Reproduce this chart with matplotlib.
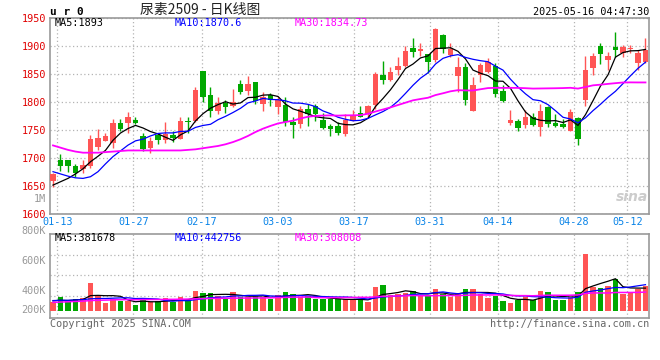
import matplotlib
matplotlib.use("Agg")
import matplotlib.pyplot as plt

plt.rcParams['font.family'] = ['DejaVu Sans Mono', 'Noto Sans CJK SC']

# trading days on the chart (2025)
dates = ["01-10", "01-13", "01-14", "01-15", "01-16", "01-17", "01-20", "01-21", "01-22", "01-23",
         "01-24", "01-27", "02-05", "02-06", "02-07", "02-10", "02-11", "02-12", "02-13", "02-14",
         "02-17", "02-18", "02-19", "02-20", "02-21", "02-24", "02-25", "02-26", "02-27", "02-28",
         "03-03", "03-04", "03-05", "03-06", "03-07", "03-10", "03-11", "03-12", "03-13", "03-14",
         "03-17", "03-18", "03-19", "03-20", "03-21", "03-24", "03-25", "03-26", "03-27", "03-28",
         "03-31", "04-01", "04-02", "04-03", "04-07", "04-08", "04-09", "04-10", "04-11", "04-14",
         "04-15", "04-16", "04-17", "04-18", "04-21", "04-22", "04-23", "04-24", "04-25", "04-28",
         "04-29", "04-30", "05-06", "05-07", "05-08", "05-09", "05-12", "05-13", "05-14", "05-15"]

opens = [1658, 1696, 1696, 1685, 1680, 1686, 1720, 1730, 1727, 1762,
         1762, 1768, 1739, 1718, 1740, 1731, 1741, 1734, 1765, 1766,
         1855, 1812, 1784, 1798, 1792, 1832, 1820, 1835, 1797, 1812,
         1790, 1794, 1764, 1760, 1787, 1792, 1767, 1757, 1757, 1742,
         1766, 1780, 1778, 1794, 1848, 1839, 1857, 1864, 1896, 1891,
         1885, 1874, 1920, 1884, 1846, 1862, 1784, 1848, 1854, 1864,
         1820, 1763, 1766, 1758, 1772, 1755, 1790, 1763, 1760, 1748,
         1771, 1803, 1860, 1900, 1874, 1898, 1888, 1895, 1870, 1872]
closes = [1670, 1686, 1686, 1672, 1687, 1733, 1735, 1739, 1762, 1752,
          1773, 1763, 1716, 1730, 1731, 1743, 1735, 1766, 1764, 1821,
          1808, 1784, 1798, 1790, 1800, 1818, 1832, 1801, 1809, 1803,
          1803, 1764, 1758, 1788, 1779, 1778, 1754, 1752, 1745, 1767,
          1776, 1773, 1792, 1850, 1839, 1854, 1864, 1891, 1890, 1894,
          1872, 1930, 1894, 1894, 1862, 1804, 1830, 1866, 1872, 1814,
          1802, 1767, 1754, 1772, 1758, 1784, 1761, 1757, 1755, 1782,
          1734, 1857, 1882, 1886, 1882, 1893, 1898, 1897, 1888, 1893]
highs = [1673, 1706, 1696, 1689, 1696, 1741, 1751, 1745, 1769, 1769,
         1782, 1772, 1745, 1737, 1745, 1764, 1748, 1773, 1773, 1827,
         1856, 1827, 1808, 1803, 1823, 1839, 1846, 1836, 1817, 1816,
         1808, 1808, 1773, 1793, 1797, 1797, 1780, 1761, 1764, 1779,
         1785, 1792, 1794, 1854, 1873, 1863, 1881, 1900, 1914, 1905,
         1885, 1932, 1921, 1905, 1881, 1870, 1844, 1870, 1878, 1869,
         1830, 1786, 1770, 1785, 1780, 1796, 1793, 1778, 1769, 1787,
         1773, 1882, 1888, 1905, 1890, 1925, 1902, 1902, 1892, 1915]
lows = [1648, 1677, 1675, 1666, 1672, 1681, 1714, 1730, 1718, 1748,
        1745, 1760, 1712, 1708, 1724, 1727, 1728, 1733, 1745, 1764,
        1800, 1773, 1779, 1780, 1790, 1814, 1812, 1797, 1784, 1792,
        1778, 1757, 1736, 1753, 1757, 1766, 1752, 1739, 1740, 1738,
        1765, 1772, 1773, 1788, 1832, 1838, 1848, 1863, 1880, 1882,
        1852, 1872, 1887, 1881, 1818, 1794, 1783, 1836, 1851, 1809,
        1800, 1758, 1748, 1754, 1757, 1739, 1755, 1755, 1754, 1748,
        1723, 1792, 1848, 1867, 1857, 1881, 1881, 1888, 1857, 1870]

ma5 = [1651, 1657, 1663, 1671, 1680.2, 1692.8, 1702.6, 1713.2, 1731.2, 1744.2,
       1752.2, 1757.8, 1753.2, 1746.8, 1742.6, 1736.6, 1731.0, 1741.0, 1747.8, 1765.8,
       1778.8, 1788.6, 1795.0, 1800.2, 1796.0, 1798.0, 1807.6, 1808.2, 1812.0, 1812.6,
       1809.6, 1796.0, 1787.4, 1783.2, 1778.4, 1773.4, 1771.4, 1770.2, 1761.6, 1759.2,
       1758.8, 1762.6, 1770.6, 1791.6, 1806.0, 1821.6, 1839.8, 1859.6, 1867.6, 1878.6,
       1882.2, 1895.4, 1896.0, 1896.8, 1890.4, 1876.8, 1856.8, 1851.2, 1846.8, 1837.2,
       1836.8, 1824.2, 1801.8, 1781.8, 1770.6, 1767.0, 1765.8, 1766.4, 1763.0, 1767.8,
       1757.8, 1777.0, 1802.0, 1828.2, 1848.2, 1880.0, 1888.2, 1891.2, 1891.6, 1893.8]
ma10 = [1675, 1671, 1667, 1664, 1663, 1666, 1675, 1689, 1702, 1712.2,
        1722.5, 1730.2, 1733.2, 1739.0, 1743.4, 1744.4, 1744.4, 1747.1, 1747.3, 1754.2,
        1757.7, 1759.8, 1768.0, 1774.0, 1780.9, 1788.4, 1798.1, 1801.6, 1806.1, 1804.3,
        1803.8, 1801.8, 1797.8, 1797.6, 1795.5, 1791.5, 1783.7, 1778.8, 1772.4, 1768.8,
        1766.1, 1767.0, 1770.4, 1776.6, 1782.6, 1790.2, 1801.2, 1815.1, 1829.6, 1842.3,
        1851.9, 1867.6, 1877.8, 1882.2, 1884.5, 1879.5, 1876.1, 1873.6, 1871.8, 1863.8,
        1856.8, 1840.5, 1826.5, 1814.3, 1803.9, 1801.9, 1795.0, 1784.1, 1772.4, 1769.2,
        1762.4, 1771.4, 1784.2, 1795.6, 1808.0, 1818.9, 1832.6, 1846.6, 1859.9, 1871.0]
ma30 = [1722, 1718, 1714, 1711, 1709, 1709, 1709, 1710, 1711, 1712,
        1713, 1713, 1713, 1713, 1713, 1713, 1713, 1713, 1714, 1715,
        1717, 1719, 1721, 1724, 1728, 1733, 1739, 1746, 1752, 1756.9,
        1761.3, 1763.9, 1766.3, 1770.2, 1773.3, 1774.8, 1775.4, 1775.8, 1775.3, 1775.8,
        1775.9, 1776.2, 1778.7, 1782.7, 1786.3, 1790.0, 1794.3, 1798.5, 1802.7, 1805.1,
        1807.3, 1812.1, 1815.3, 1818.8, 1820.9, 1820.4, 1820.3, 1822.5, 1824.6, 1825.0,
        1824.9, 1825.0, 1824.9, 1824.4, 1823.7, 1823.9, 1824.1, 1824.3, 1824.6, 1825.1,
        1823.7, 1826.5, 1829.5, 1830.7, 1832.1, 1833.4, 1834.6, 1834.8, 1834.7, 1834.7]

# volume and its moving averages, thousands of lots
volumes = [151, 224, 162, 196, 213, 470, 246, 134, 202, 157,
           162, 95, 190, 146, 157, 213, 146, 230, 179, 336,
           302, 302, 246, 190, 319, 235, 235, 235, 224, 190,
           263, 319, 286, 235, 246, 190, 190, 190, 190, 190,
           190, 190, 151, 403, 431, 263, 280, 291, 336, 263,
           246, 364, 280, 224, 302, 364, 364, 280, 218, 246,
           168, 134, 179, 224, 179, 336, 319, 179, 179, 224,
           319, 952, 403, 386, 414, 532, 280, 302, 370, 414]
vol_ma5 = [165, 175, 170, 180, 189.2, 253.0, 257.4, 251.8, 253.0, 241.8,
           180.2, 150.0, 161.2, 150.0, 150.0, 160.2, 170.4, 178.4, 185.0, 220.8,
           238.6, 269.8, 273.0, 275.2, 271.8, 258.4, 245.0, 242.8, 249.6, 223.8,
           229.4, 246.2, 256.4, 258.6, 269.8, 255.2, 229.4, 210.2, 201.2, 190.0,
           190.0, 190.0, 182.2, 224.8, 273.0, 287.6, 305.6, 333.6, 320.2, 286.6,
           283.2, 300.0, 297.8, 275.4, 283.2, 306.8, 306.8, 306.8, 305.6, 294.4,
           255.2, 209.2, 189.0, 190.2, 176.8, 210.4, 247.4, 247.4, 238.4, 247.4,
           244.0, 370.6, 415.4, 456.8, 494.8, 537.4, 403.0, 382.8, 379.6, 379.6]
vol_ma10 = [170, 175, 175, 180, 185, 200, 205, 205, 210, 215.5,
            216.6, 203.7, 206.5, 201.5, 195.9, 170.2, 160.2, 169.8, 167.5, 185.4,
            199.4, 220.1, 225.7, 230.1, 246.3, 248.5, 257.4, 257.9, 262.4, 247.8,
            243.9, 245.6, 249.6, 254.1, 246.8, 242.3, 237.8, 233.3, 229.9, 229.9,
            222.6, 209.7, 196.2, 213.0, 231.5, 238.8, 247.8, 257.9, 272.5, 279.8,
            285.4, 302.8, 315.7, 297.8, 284.9, 295.0, 303.4, 302.3, 290.5, 288.8,
            281.0, 258.0, 247.9, 247.9, 235.6, 232.8, 228.3, 218.2, 214.3, 212.1,
            227.2, 309.0, 331.4, 347.6, 371.1, 390.7, 386.8, 399.1, 418.2, 437.2]
vol_ma30 = [140, 145, 150, 155, 160, 170, 175, 178, 182, 185,
            186, 185, 187, 188, 188, 190, 191, 193, 195, 199,
            202, 205, 207, 209, 211, 212, 213, 214, 215, 216.2,
            220.0, 223.1, 227.3, 228.6, 229.7, 220.3, 218.5, 220.3, 219.9, 221.0,
            222.0, 225.1, 223.8, 232.4, 241.5, 243.2, 247.7, 249.7, 254.9, 252.5,
            250.6, 252.7, 253.8, 255.0, 254.4, 258.7, 263.0, 264.5, 264.3, 266.2,
            263.0, 256.8, 253.3, 252.9, 250.7, 255.5, 259.8, 259.5, 259.1, 260.2,
            264.5, 289.9, 298.3, 297.8, 297.2, 306.2, 306.2, 306.5, 307.7, 312.7]

tick_dates = ["01-13", "01-27", "02-17", "03-03", "03-17", "03-31", "04-14", "04-28", "05-12"]
price_ticks = [1950, 1900, 1850, 1800, 1750, 1700, 1650, 1600]

RED = '#ff5555'
GREEN = '#00a800'
GRID = '#b4b4b4'
FRAME = '#999999'
DATE_BLUE = '#0a84e8'

W, H = 660, 360


def fpos(x, y):
    # pixel position in the 660x360 picture -> figure fraction
    return x / W, 1 - y / H


fig = plt.figure(figsize=(6.6, 3.6), dpi=100)
ax = fig.add_axes([50 / W, 1 - 213.6 / H, 599 / W, 195.6 / H])
axv = fig.add_axes([50 / W, 1 - 318.3 / H, 599 / W, 84 / H])

x = list(range(len(dates)))
colors = [RED if c >= o else GREEN for o, c in zip(opens, closes)]

# the source spaces its date grid a touch wider than the candles
grid_stretch = 7.6 / 7.5
tick_pos = [dates.index(d) * grid_stretch - 0.45 for d in tick_dates]

# candles
ax.vlines(x, lows, highs, colors=colors, linewidth=1, zorder=3)
ax.bar(x, [max(abs(c - o), 0.8) for o, c in zip(opens, closes)],
       bottom=[min(o, c) for o, c in zip(opens, closes)],
       width=0.78, color=colors, linewidth=0, zorder=4)
ax.plot(x, ma5, color='black', lw=0.9, zorder=5)
ax.plot(x, ma10, color='#0000ff', lw=0.9, zorder=5)
ax.plot(x, ma30, color='#ff00ff', lw=1.3, zorder=5)

ax.set_xlim(-0.4, 79.47)
ax.set_ylim(1600, 1950)
ax.set_yticks(price_ticks)
ax.set_yticklabels([str(p) for p in price_ticks], color='#e00000', fontsize=7.3)
ax.set_xticks(tick_pos)
ax.set_xticklabels(tick_dates, color=DATE_BLUE, fontsize=7.3)
ax.tick_params(length=0, pad=2.5)
ax.grid(True, linestyle=(0, (1, 2)), color=GRID, lw=0.9)

# volume bars
axv.bar(x, volumes, width=0.78, color=colors, linewidth=0, zorder=3)
axv.plot(x, vol_ma5, color='black', lw=0.9, zorder=4)
axv.plot(x, vol_ma10, color='#0000ff', lw=0.9, zorder=4)
axv.plot(x, vol_ma30, color='#ff00ff', lw=1.1, zorder=4)
axv.set_xlim(-0.4, 79.47)
vlo, vhi = -128, 1284
axv.set_ylim(vlo, vhi)
axv.set_xticks(tick_pos)
axv.set_xticklabels([])
axv.set_yticks([vlo + f * (vhi - vlo) for f in (0.27, 0.51, 0.75)])
axv.set_yticklabels([])
axv.tick_params(length=0)
axv.grid(True, linestyle=(0, (1, 2)), color=GRID, lw=0.9)

for a in (ax, axv):
    for s in a.spines.values():
        s.set_color(FRAME)
        s.set_linewidth(1.2)

# header
fig.text(*fpos(50, 12), 'u r 0', fontsize=8, weight='bold', ha='left', va='center')
fig.text(*fpos(200, 10), '尿素2509 - 日K线图', fontsize=10, ha='center', va='center',
         color='#222222', family=['Noto Sans CJK SC', 'DejaVu Sans'])
fig.text(*fpos(649, 12), '2025-05-16 04:47:30', fontsize=7.3, ha='right', va='center')

# moving average captions
fig.text(*fpos(55, 23.5), 'MA5:1893', fontsize=7.3, color='black', va='center')
fig.text(*fpos(175, 23.5), 'MA10:1870.6', fontsize=7.3, color='#0000ff', va='center')
fig.text(*fpos(295, 23.5), 'MA30:1834.73', fontsize=7.3, color='#ff00ff', va='center')
fig.text(*fpos(55, 238), 'MA5:381678', fontsize=7.3, color='black', va='center')
fig.text(*fpos(175, 238), 'MA10:442756', fontsize=7.3, color='#0000ff', va='center')
fig.text(*fpos(295, 238), 'MA30:308008', fontsize=7.3, color='#ff00ff', va='center')

# volume scale labels
fig.text(*fpos(46, 199), '1M', fontsize=7.3, color='#999999', ha='right', va='center')
for lab, yy in [('800K', 231), ('600K', 260.7), ('400K', 290.7), ('200K', 310)]:
    fig.text(*fpos(46, yy), lab, fontsize=7.3, color='#999999', ha='right', va='center')

# watermark and footer
fig.text(*fpos(632, 197), 'sina', fontsize=10, color='#cccccc', style='italic',
         weight='bold', ha='center', va='center', family='DejaVu Sans')
fig.text(*fpos(50, 324), 'Copyright 2025 SINA.COM', fontsize=7.3, color='#666666', va='center')
fig.text(*fpos(649, 324), 'http://finance.sina.com.cn', fontsize=7.3, color='#666666',
         ha='right', va='center')

fig.savefig('out.png', dpi=100)
